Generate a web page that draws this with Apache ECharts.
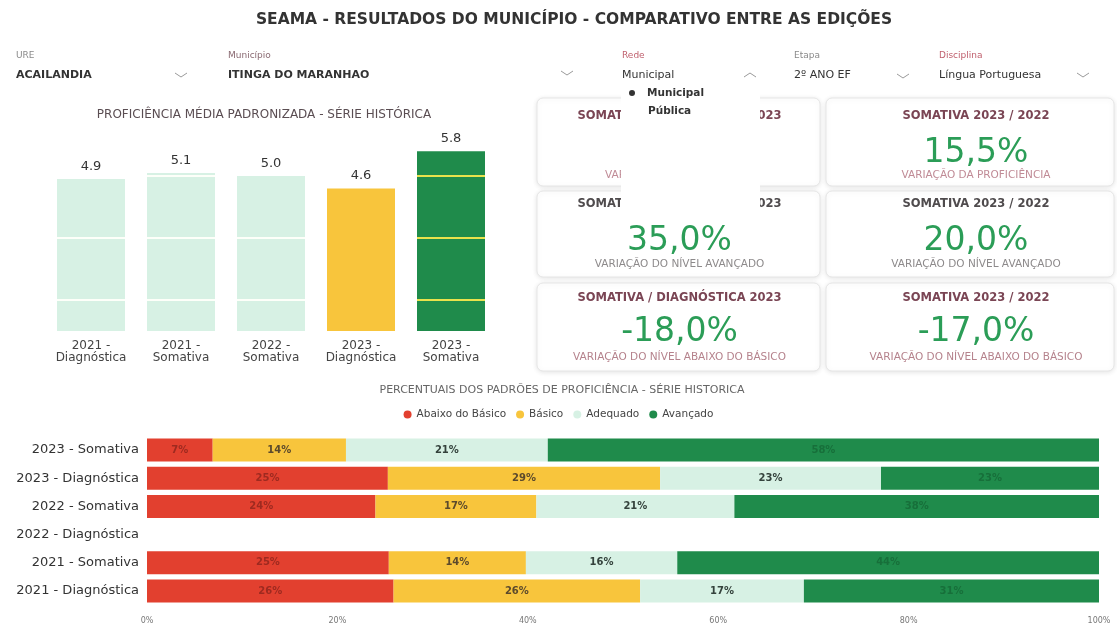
<!DOCTYPE html>
<html>
<head>
<meta charset="utf-8">
<script src="https://cdn.jsdelivr.net/npm/echarts@6/dist/echarts.min.js"></script>
<style>
html,body{margin:0;padding:0;background:#fff;}
#chart{width:1117px;height:631px;}
</style>
</head>
<body>
<div id="chart"></div>
<script>
// ---------- DATA ----------
const pageTitle = 'SEAMA - RESULTADOS DO MUNICÍPIO - COMPARATIVO ENTRE AS EDIÇÕES';

const filterLabels = ['URE', 'Município', 'Rede', 'Etapa', 'Disciplina'];
const filterValues = ['ACAILANDIA', 'ITINGA DO MARANHAO', 'Municipal', '2º ANO EF', 'Língua Portuguesa'];
const dropdownOptions = ['Municipal', 'Pública'];

const profTitle = 'PROFICIÊNCIA MÉDIA PADRONIZADA - SÉRIE HISTÓRICA';
const profCategories = ['2021 -\nDiagnóstica', '2021 -\nSomativa', '2022 -\nSomativa', '2023 -\nDiagnóstica', '2023 -\nSomativa'];
const profValues = [4.9, 5.1, 5.0, 4.6, 5.8];
const stripeValues = [1, 3, 5];

const kpiTitles = ['SOMATIVA / DIAGNÓSTICA 2023', 'SOMATIVA 2023 / 2022',
                   'SOMATIVA / DIAGNÓSTICA 2023', 'SOMATIVA 2023 / 2022',
                   'SOMATIVA / DIAGNÓSTICA 2023', 'SOMATIVA 2023 / 2022'];
const kpiValues = ['', '15,5%', '35,0%', '20,0%', '-18,0%', '-17,0%'];
const kpiSubtitles = ['VARIAÇÃO DA PROFICIÊNCIA', 'VARIAÇÃO DA PROFICIÊNCIA',
                      'VARIAÇÃO DO NÍVEL AVANÇADO', 'VARIAÇÃO DO NÍVEL AVANÇADO',
                      'VARIAÇÃO DO NÍVEL ABAIXO DO BÁSICO', 'VARIAÇÃO DO NÍVEL ABAIXO DO BÁSICO'];

const levelTitle = 'PERCENTUAIS DOS PADRÕES DE PROFICIÊNCIA - SÉRIE HISTORICA';
const levelCategories = ['2023 - Somativa', '2023 - Diagnóstica', '2022 - Somativa',
                         '2022 - Diagnóstica', '2021 - Somativa', '2021 - Diagnóstica'];
const levelNames = ['Abaixo do Básico', 'Básico', 'Adequado', 'Avançado'];
const abaixoDoBasico = [6.9, 25.3, 24.0, null, 25.4, 25.9];
const basico         = [14.0, 28.6, 16.9, null, 14.4, 25.9];
const adequado       = [21.2, 23.2, 20.8, null, 15.9, 17.2];
const avancado       = [57.9, 22.9, 38.3, null, 44.3, 31.0];

// ---------- STYLE ----------
const FONT = '"DejaVu Sans", "Noto Sans", sans-serif';
const RED = '#e2402f', YELLOW = '#f8c53c', MINT = '#d7f1e4', GREEN = '#1f8b4b';
const profBarColors = [MINT, MINT, MINT, YELLOW, GREEN];
const stripeColors = ['rgba(255,255,250,0.95)', 'rgba(255,255,250,0.95)', 'rgba(255,255,250,0.95)', 'rgba(0,0,0,0)', '#e9e24c'];
const levelColors = [RED, YELLOW, MINT, GREEN];
const levelLabelColors = ['#9e2a20', '#5c4a2c', '#34423c', '#176f3a'];

const chart = echarts.init(document.getElementById('chart'), null, {renderer: 'canvas'});

// ---------- graphics ----------
const g = [];
function txt(text, x, y, size, color, opts) {
  opts = opts || {};
  g.push({type: 'text', z: opts.z || 10, silent: true,
    style: {text: text, x: x, y: y, fontSize: size, fontFamily: opts.family || FONT,
      fontWeight: opts.weight || 'normal', fill: color,
      align: opts.align || 'left', verticalAlign: 'middle'}});
}
function chevron(x, y, up) {
  const d = up ? -1 : 1;
  g.push({type: 'polyline', z: 10, silent: true,
    shape: {points: [[x - 6, y - 2 * d], [x, y + 2 * d], [x + 6, y - 2 * d]]},
    style: {stroke: '#9a9a9a', lineWidth: 1, fill: null}});
}

txt(pageTitle, 574, 20, 15.5, '#333', {align: 'center', weight: 'bold'});

// filters
const fX = [16, 228, 622, 794, 939];
const fLabelColors = ['#8a8a8a', '#8a6a72', '#c0606e', '#8a8a8a', '#c0606e'];
filterLabels.forEach((l, i) => txt(l, fX[i], 56, 9, fLabelColors[i]));
filterValues.forEach((v, i) => txt(v, fX[i], 75, i < 2 ? 11 : 11, '#333', {weight: i < 2 ? 'bold' : 'normal'}));
chevron(181, 75, false); chevron(567, 73, false); chevron(750, 75, true);
chevron(903, 76, false); chevron(1083, 75, false);

txt(profTitle, 264, 115, 12, '#5a4d52', {align: 'center'});

// KPI cards
const colX = [537, 826], colW = [283, 288];
const rowY = [98, 191, 283], rowH = [88, 86, 88];
const titleY = [116, 204, 298], valueY = [153, 241, 332], subY = [175, 264, 357];
const titleColors = ['#7a4554', '#4f4b4d', '#7a4554'];
const subColors = ['#c08b96', '#8d8a8b', '#b5828c'];
for (let r = 0; r < 3; r++) {
  for (let c = 0; c < 2; c++) {
    const k = r * 2 + c;
    g.push({type: 'rect', z: 1, silent: true,
      shape: {x: colX[c], y: rowY[r], width: colW[c], height: rowH[r], r: 6},
      style: {fill: '#fff', stroke: '#e6e6e6', lineWidth: 1,
        shadowBlur: 5, shadowColor: 'rgba(0,0,0,0.10)', shadowOffsetY: 1}});
    const cx = colX[c] + colW[c] / 2 + (c === 0 ? 1 : 6);
    txt(kpiTitles[k], cx, titleY[r], 11.5, titleColors[r], {align: 'center', weight: '600'});
    if (kpiValues[k]) txt(kpiValues[k], cx, valueY[r], 33, '#2b9d57', {align: 'center'});
    txt(kpiSubtitles[k], cx, subY[r], 10.5, subColors[r], {align: 'center'});
  }
}
// open dropdown popup covering part of the cards
g.push({type: 'rect', z: 20, silent: true, shape: {x: 621, y: 84, width: 139, height: 126},
  style: {fill: '#fff'}});
g.push({type: 'circle', z: 21, silent: true, shape: {cx: 632, cy: 93, r: 3}, style: {fill: '#333'}});
txt(dropdownOptions[0], 647, 93, 10.5, '#333', {z: 21, weight: '600'});
txt(dropdownOptions[1], 648, 111, 10.5, '#333', {z: 21, weight: '600'});

txt(levelTitle, 562, 390, 11, '#666', {align: 'center'});

// ---------- option ----------
const levelData = [abaixoDoBasico, basico, adequado, avancado];

const option = {
  backgroundColor: '#fff',
  animation: false,
  textStyle: {fontFamily: FONT},
  graphic: g,
  legend: {
    data: levelNames, top: 404, left: 'center', icon: 'circle',
    itemWidth: 8, itemHeight: 8, itemGap: 10, selectedMode: false,
    textStyle: {fontSize: 10.5, color: '#444', fontFamily: FONT}
  },
  grid: [
    {left: 46, top: 145, width: 450, height: 186},
    {left: 147, top: 436, width: 952, height: 169}
  ],
  xAxis: [
    {gridIndex: 0, type: 'category', data: profCategories,
      axisLine: {show: false}, axisTick: {show: false},
      axisLabel: {fontSize: 12, color: '#444', lineHeight: 12, margin: 9, interval: 0}},
    {gridIndex: 1, type: 'value', min: 0, max: 100, interval: 20,
      axisLine: {show: false}, axisTick: {show: false}, splitLine: {show: false},
      axisLabel: {formatter: '{value}%', fontSize: 8, color: '#777', margin: 12}}
  ],
  yAxis: [
    {gridIndex: 0, type: 'value', min: 0, max: 6, show: false},
    {gridIndex: 1, type: 'category', data: levelCategories, inverse: true,
      axisLine: {show: false}, axisTick: {show: false},
      axisLabel: {fontSize: 13, color: '#333', margin: 8}}
  ],
  series: [
    {type: 'bar', name: 'Proficiência', xAxisIndex: 0, yAxisIndex: 0, barWidth: 68,
      data: profValues.map((v, i) => ({value: v, itemStyle: {color: profBarColors[i]}})),
      label: {show: true, position: 'top', distance: 6, fontSize: 13, color: '#333',
        formatter: p => p.value.toFixed(1)}},
    {type: 'custom', name: 'faixas', xAxisIndex: 0, yAxisIndex: 0, z: 5, silent: true,
      data: profValues.map((v, i) => [i, v]),
      renderItem: function (params, api) {
        const i = api.value(0), v = api.value(1);
        const base = api.coord([i, 0]);
        const half = 34;
        const children = stripeValues.filter(s => s < v).map(s => {
          const y = api.coord([i, s])[1];
          return {type: 'line', shape: {x1: base[0] - half, y1: y, x2: base[0] + half, y2: y},
            style: {stroke: stripeColors[i], lineWidth: 2}};
        });
        return {type: 'group', children: children};
      }},
    ...levelNames.map((name, k) => ({
      type: 'bar', name: name, stack: 'niveis', xAxisIndex: 1, yAxisIndex: 1, barWidth: 23,
      itemStyle: {color: levelColors[k]},
      data: levelData[k],
      label: {show: true, position: 'inside', fontSize: 10, fontWeight: '600', color: levelLabelColors[k],
        formatter: p => (p.value == null ? '' : Math.round(p.value) + '%')}
    }))
  ]
};
chart.setOption(option);
</script>
</body>
</html>
